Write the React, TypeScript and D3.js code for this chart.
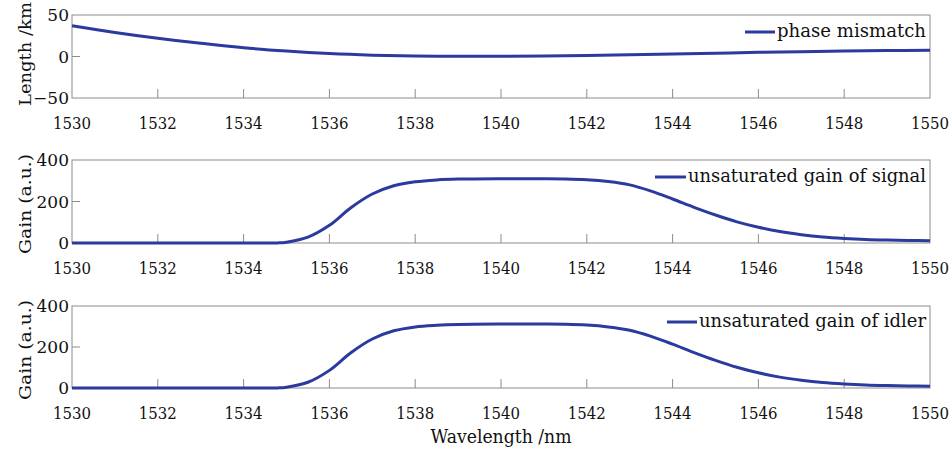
import React, { useEffect, useRef } from 'react'
import * as d3 from 'd3'

// wavelength ticks shared by all three panels
const xTicks = [1530, 1532, 1534, 1536, 1538, 1540, 1542, 1544, 1546, 1548, 1550]

// phase mismatch (km)
const phaseWl = [1530, 1531, 1532, 1533, 1534, 1535, 1536, 1537, 1538, 1539, 1540,
  1541, 1542, 1543, 1544, 1545, 1546, 1547, 1548, 1549, 1550]
const phaseLen = [37, 29, 22, 16, 10.5, 6.5, 3.5, 1.6, 0.6, 0.2, 0.2,
  0.5, 1.2, 2.1, 3.0, 4.0, 5.0, 5.8, 6.5, 7.1, 7.5]

// unsaturated gain (a.u.)
const gainWl = [1530, 1531, 1532, 1533, 1534, 1534.5, 1534.8, 1535, 1535.5, 1536, 1536.5,
  1537, 1537.5, 1538, 1538.5, 1539, 1540, 1541, 1541.5, 1542, 1542.5, 1543, 1543.5,
  1544, 1544.5, 1545, 1545.5, 1546, 1546.5, 1547, 1547.5, 1548, 1548.5, 1549, 1549.5, 1550]
const signalGain = [0, 0, 0, 0, 0, 0, 0.5, 4, 28, 85, 170,
  236, 276, 295, 304, 308, 310, 310, 309, 305, 296, 280, 250,
  212, 172, 135, 102, 76, 55, 40, 29, 22, 17, 14, 12, 11]
const idlerGain = [0, 0, 0, 0, 0, 0, 0.5, 4, 28, 86, 172,
  239, 279, 298, 306, 310, 312, 312, 311, 307, 298, 282, 252,
  214, 173, 135, 101, 74, 53, 38, 27, 20, 15, 12, 10, 9]

const lengthTicks = [-50, 0, 50]
const gainTicks = [0, 200, 400]

const W = 952, H = 453
const left = 72, right = 930
const blue = '#2b3a9e'
const axisGrey = '#8c8c8c'
const font = '"DejaVu Serif", serif'

const panels = [
  { top: 15, bottom: 98, domain: [-50, 50], ticks: lengthTicks, xs: phaseWl, ys: phaseLen,
    ylabel: 'Length /km', ylabelMid: 54, ylabelLen: 104, legend: 'phase mismatch',
    lx1: 745, lx2: 775, ly: 32, textEnd: 926 },
  { top: 160, bottom: 243, domain: [0, 400], ticks: gainTicks, xs: gainWl, ys: signalGain,
    ylabel: 'Gain (a.u.)', ylabelMid: 204, ylabelLen: 100, legend: 'unsaturated gain of signal',
    lx1: 655, lx2: 686, ly: 177, textEnd: 926 },
  { top: 306, bottom: 388, domain: [0, 400], ticks: gainTicks, xs: gainWl, ys: idlerGain,
    ylabel: 'Gain (a.u.)', ylabelMid: 350, ylabelLen: 100, legend: 'unsaturated gain of idler',
    lx1: 667, lx2: 697, ly: 322, textEnd: 926 },
]

export default function App() {
  const ref = useRef<SVGSVGElement | null>(null)

  useEffect(() => {
    const svg = d3.select(ref.current)
    svg.selectAll('*').remove()
    svg.append('rect').attr('width', W).attr('height', H).attr('fill', '#fff')

    const x = d3.scaleLinear().domain([1530, 1550]).range([left, right])

    panels.forEach((p) => {
      const y = d3.scaleLinear().domain(p.domain).range([p.bottom, p.top])
      const g = svg.append('g')

      // frame
      g.append('rect')
        .attr('x', left).attr('y', p.top)
        .attr('width', right - left).attr('height', p.bottom - p.top)
        .attr('fill', 'none').attr('stroke', axisGrey).attr('stroke-width', 1)

      // x ticks (inward) and labels
      xTicks.forEach((t) => {
        if (t !== 1530 && t !== 1550) {
          g.append('line')
            .attr('x1', x(t)).attr('x2', x(t))
            .attr('y1', p.bottom).attr('y2', p.bottom - 9)
            .attr('stroke', axisGrey)
        }
        g.append('text')
          .attr('x', x(t)).attr('y', p.bottom + 31)
          .attr('text-anchor', 'middle')
          .attr('font-family', font).attr('font-size', 16)
          .attr('fill', '#111')
          .attr('textLength', 38)
          .attr('lengthAdjust', 'spacingAndGlyphs')
          .text(String(t))
      })

      // y ticks and labels
      p.ticks.forEach((t) => {
        if (t !== p.domain[0] && t !== p.domain[1]) {
          g.append('line')
            .attr('x1', left).attr('x2', left + 8)
            .attr('y1', y(t)).attr('y2', y(t))
            .attr('stroke', axisGrey)
        }
        g.append('text')
          .attr('x', left - 3).attr('y', y(t))
          .attr('dy', '0.36em')
          .attr('text-anchor', 'end')
          .attr('font-family', font).attr('font-size', 17)
          .attr('fill', '#111')
          .text(t < 0 ? '\u2212' + Math.abs(t) : String(t))
      })

      // y label
      g.append('text')
        .attr('transform', `translate(31,${p.ylabelMid}) rotate(-90)`)
        .attr('text-anchor', 'middle')
        .attr('font-family', font).attr('font-size', 17)
        .attr('fill', '#111')
        .attr('textLength', p.ylabelLen)
        .attr('lengthAdjust', 'spacingAndGlyphs')
        .text(p.ylabel)

      // curve
      const line = d3.line<number>()
        .x((d, i) => x(p.xs[i]))
        .y((d) => y(d))
        .curve(d3.curveCatmullRom.alpha(0.5))
      g.append('path')
        .attr('d', line(p.ys))
        .attr('fill', 'none')
        .attr('stroke', blue)
        .attr('stroke-width', 3)

      // legend
      g.append('line')
        .attr('x1', p.lx1).attr('x2', p.lx2)
        .attr('y1', p.ly).attr('y2', p.ly)
        .attr('stroke', blue).attr('stroke-width', 3)
      g.append('text')
        .attr('x', p.lx2 + 2).attr('y', p.ly + 5)
        .attr('font-family', font).attr('font-size', 19)
        .attr('fill', '#111')
        .attr('textLength', p.textEnd - p.lx2 - 2)
        .attr('lengthAdjust', 'spacingAndGlyphs')
        .text(p.legend)
    })

    svg.append('text')
      .attr('x', (left + right) / 2).attr('y', 443)
      .attr('text-anchor', 'middle')
      .attr('font-family', font).attr('font-size', 19)
      .attr('fill', '#111')
      .attr('textLength', 141)
      .attr('lengthAdjust', 'spacingAndGlyphs')
      .text('Wavelength /nm')
  }, [])

  return (
    <svg ref={ref} width={W} height={H}
      style={{ position: 'absolute', left: 0, top: 0, display: 'block' }} />
  )
}
